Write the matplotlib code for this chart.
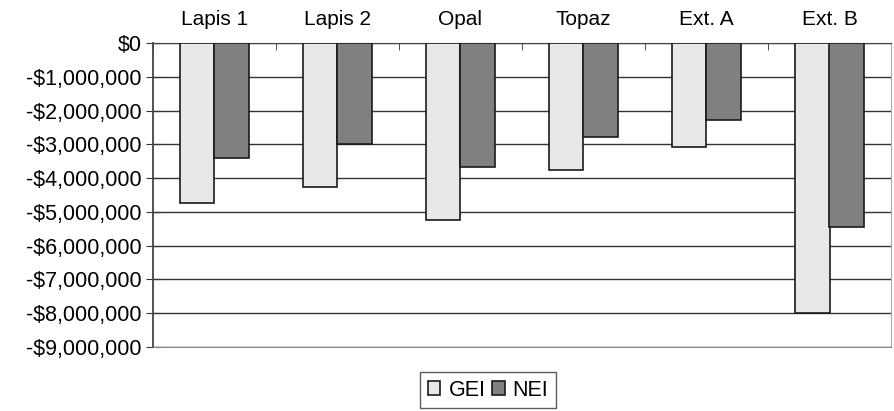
import matplotlib.pyplot as plt
import numpy as np
from matplotlib.ticker import FuncFormatter

plt.rcParams['font.family'] = ['Liberation Sans', 'DejaVu Sans']

sites = ["Lapis 1", "Lapis 2", "Opal", "Topaz", "Ext. A", "Ext. B"]
gei = [-4750000, -4250000, -5250000, -3750000, -3080000, -8000000]
nei = [-3400000, -3000000, -3670000, -2780000, -2280000, -5440000]

fig = plt.figure(figsize=(8.95, 4.11), dpi=100)
ax = fig.add_axes([153/895, 1 - 347/411, (891-153)/895, (347-43)/411])

x = np.arange(len(sites))
w = 0.28
ax.bar(x - w/2, gei, w, color="#e8e8e8", edgecolor="#1a1a1a", linewidth=1.2, label="GEI", zorder=3)
ax.bar(x + w/2, nei, w, color="#808080", edgecolor="#1a1a1a", linewidth=1.2, label="NEI", zorder=3)

ax.set_xlim(-0.5, len(sites) - 0.5)
ax.set_ylim(-9000000, 0)
ax.set_yticks(np.arange(-9000000, 1, 1000000))
ax.yaxis.set_major_formatter(FuncFormatter(
    lambda v, p: "$0" if v == 0 else "-${:,.0f}".format(abs(v))))
ax.grid(axis="y", color="#333333", linewidth=1.0, zorder=0)

# category labels on top, separator ticks between groups
ax.xaxis.tick_top()
ax.set_xticks(x)
ax.set_xticklabels(sites)
ax.tick_params(axis="x", which="major", length=0, pad=10, labelsize=15)
ax.set_xticks(np.arange(-0.5, len(sites)), minor=True)
ax.tick_params(axis="x", which="minor", direction="in", length=5, color="#333333")
ax.tick_params(axis="y", direction="inout", length=10, color="#333333", pad=3, labelsize=15.5)

ax.spines["left"].set_color("#444444")
ax.spines["left"].set_linewidth(1.3)
ax.spines["top"].set_color("#444444")
ax.spines["right"].set_color("#aaaaaa")
ax.spines["bottom"].set_color("#888888")

fig.legend(loc="center", bbox_to_anchor=(488/895, 1 - 390/411), ncol=2,
           frameon=True, fancybox=False, edgecolor="#333333", fontsize=15.5,
           handlelength=0.6, handleheight=0.6, handletextpad=0.37,
           columnspacing=0.3, borderpad=0.35, borderaxespad=0)

fig.savefig("out.png", dpi=100)
